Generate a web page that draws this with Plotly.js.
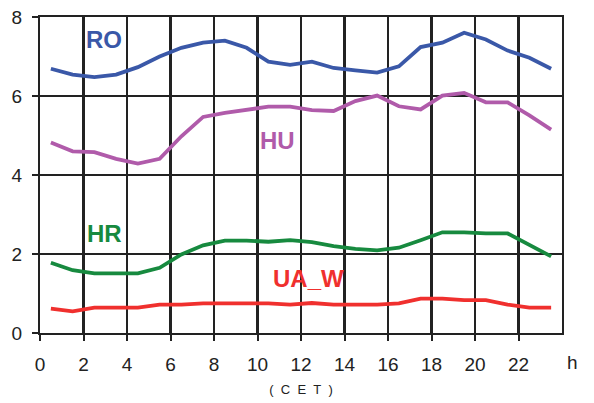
<!DOCTYPE html>
<html>
<head>
<meta charset="utf-8">
<script src="https://cdn.plot.ly/plotly-3.0.1.min.js"></script>
<style>html,body{margin:0;padding:0;background:#fff;}#chart{width:594px;height:403px;}</style>
</head>
<body>
<div id="chart"></div>
<script>
const hours = [0.5,1.5,2.5,3.5,4.5,5.5,6.5,7.5,8.5,9.5,10.5,11.5,12.5,13.5,14.5,15.5,16.5,17.5,18.5,19.5,20.5,21.5,22.5,23.5];
const ro  = [6.69,6.54,6.48,6.54,6.73,7.00,7.22,7.35,7.40,7.22,6.87,6.79,6.87,6.71,6.65,6.59,6.75,7.24,7.35,7.60,7.43,7.15,6.97,6.69];
const hu  = [4.82,4.60,4.58,4.41,4.29,4.41,4.98,5.47,5.57,5.66,5.73,5.73,5.64,5.62,5.87,6.01,5.74,5.66,6.01,6.08,5.84,5.84,5.51,5.15];
const hr  = [1.78,1.59,1.51,1.51,1.51,1.65,1.99,2.22,2.34,2.34,2.31,2.35,2.30,2.20,2.13,2.09,2.16,2.35,2.55,2.55,2.52,2.52,2.24,1.94];
const uaW = [0.62,0.55,0.64,0.64,0.64,0.72,0.72,0.75,0.75,0.75,0.75,0.72,0.76,0.72,0.72,0.72,0.75,0.87,0.87,0.83,0.83,0.72,0.64,0.64];
const xTicks = [0,2,4,6,8,10,12,14,16,18,20,22];
const yTicks = [0,2,4,6,8];
const seriesNames = ['RO','HU','HR','UA_W'];
const colors = ['#3A58A8','#B05BAA','#178A3F','#F0302E'];
const labelPos = [[2.93,7.42],[10.92,4.87],[2.97,2.52],[12.33,1.38]];
const seriesData = [ro, hu, hr, uaW];

const FONT = 'Liberation Sans, Arial, sans-serif';

const traces = seriesData.map((ys, i) => ({
  x: hours, y: ys, type: 'scatter', mode: 'lines', name: seriesNames[i],
  line: {color: colors[i], width: 3.8}, hoverinfo: 'skip'
}));

const ann = seriesNames.map((n, i) => ({
  x: labelPos[i][0], y: labelPos[i][1], xref: 'x', yref: 'y', text: n, showarrow: false,
  xanchor: 'center', yanchor: 'middle',
  font: {family: FONT, size: 24, color: colors[i], weight: 'bold'}
}));
ann.push({x: 1.021, y: -0.093, xref: 'paper', yref: 'paper', text: 'h', showarrow: false,
  xanchor: 'center', yanchor: 'middle',
  font: {family: FONT, size: 19, color: '#222'}});

const axisCommon = {
  showgrid: true, gridcolor: '#222', gridwidth: 2.2, zeroline: false,
  showline: true, linecolor: '#222', linewidth: 2.2, mirror: true,
  ticks: 'outside', ticklen: 6, tickwidth: 2, tickcolor: '#222',
  tickfont: {family: FONT, size: 19, color: '#222'},
  fixedrange: true
};

const layout = {
  width: 594, height: 403,
  margin: {l: 40, r: 32, t: 17, b: 70},
  paper_bgcolor: '#fff', plot_bgcolor: '#fff',
  showlegend: false,
  xaxis: Object.assign({}, axisCommon, {
    range: [0, 24], tickmode: 'array', tickvals: xTicks, ticktext: xTicks.map(String),
    ticklabelstandoff: 7,
    title: {text: '(&nbsp;&nbsp;C&nbsp;&nbsp;E&nbsp;&nbsp;T&nbsp;&nbsp;)', standoff: 11, font: {family: FONT, size: 13, color: '#222'}}
  }),
  yaxis: Object.assign({}, axisCommon, {
    range: [0, 8], tickmode: 'array', tickvals: yTicks, ticktext: yTicks.map(String),
    ticklabelstandoff: 6
  }),
  annotations: ann
};

Plotly.newPlot('chart', traces, layout, {displayModeBar: false, staticPlot: true});
</script>
</body>
</html>
